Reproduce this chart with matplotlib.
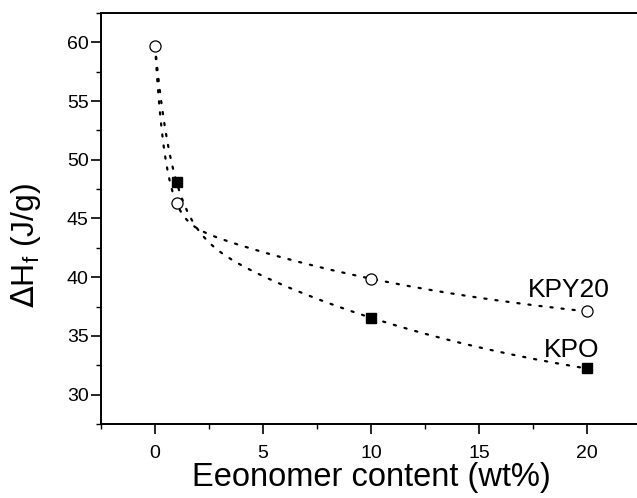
import numpy as np
import matplotlib
matplotlib.use("Agg")
import matplotlib.pyplot as plt
from matplotlib.ticker import MultipleLocator

plt.rcParams['font.family'] = ['Liberation Sans', 'DejaVu Sans']

# Heat of fusion vs. ionomer content
kpy20_x = [0, 1, 10, 20]
kpy20_y = [59.7, 46.3, 39.85, 37.1]
kpo_x = [0, 1, 10, 20]
kpo_y = [59.7, 48.1, 36.5, 32.25]

series_labels = ["KPY20", "KPO"]
x_ticks = [0, 5, 10, 15, 20]
y_ticks = [30, 35, 40, 45, 50, 55, 60]


def expdec2_fit(x, y, t1, t2, xs):
    """Least-squares y0 + A1*exp(-x/t1) + A2*exp(-x/t2) with fixed decay constants."""
    x = np.asarray(x, float)
    y = np.asarray(y, float)
    basis = lambda v: np.column_stack([np.ones_like(v), np.exp(-v / t1), np.exp(-v / t2)])
    coef, *_ = np.linalg.lstsq(basis(x), y, rcond=None)
    return basis(xs) @ coef


fig = plt.figure(figsize=(6.37, 4.98), dpi=100)
ax = fig.add_axes([0.1586, 0.1486, 0.848, 0.8254])

xs = np.linspace(0, 20, 400)
dot_style = dict(color="black", lw=1.6, linestyle=(0, (1, 4)), dash_capstyle="round")
ax.plot(xs, expdec2_fit(kpy20_x, kpy20_y, 0.47, 15.0, xs), **dot_style)
ax.plot(xs, expdec2_fit(kpo_x, kpo_y, 0.8, 15.0, xs), **dot_style)

ax.plot(kpo_x[1:], kpo_y[1:], linestyle="none", marker="s", ms=7.2,
        mfc="black", mec="black", zorder=3)
ax.plot(kpy20_x, kpy20_y, linestyle="none", marker="o", ms=8,
        mfc="white", mec="black", mew=0.9, zorder=4)

ax.text(17.27, 38.35, series_labels[0], fontsize=19, ha="left", va="baseline")
ax.text(18.0, 33.23, series_labels[1], fontsize=19, ha="left", va="baseline")

ax.set_xlim(-2.5, 22.5)
ax.set_ylim(27.5, 62.5)
ax.set_xticks(x_ticks)
ax.set_yticks(y_ticks)
ax.xaxis.set_minor_locator(MultipleLocator(2.5))
ax.yaxis.set_minor_locator(MultipleLocator(2.5))
ax.tick_params(which="major", direction="out", length=7, width=1.2, labelsize=14)
ax.tick_params(axis="y", which="major", pad=2)
ax.tick_params(axis="x", which="major", pad=8)
ax.tick_params(which="minor", direction="out", length=3.5, width=1.0)
for side in ["left", "bottom", "top", "right"]:
    ax.spines[side].set_linewidth(1.4)

ax.set_xlabel("Eeonomer content (wt%)", fontsize=23.5, labelpad=0)
ax.set_ylabel(r"$\Delta$H$_\mathregular{f}$ (J/g)", fontsize=23)
ax.yaxis.set_label_coords(-0.139, 0.435)
ax.yaxis.label.set_va("center")

fig.savefig("out.png", dpi=100)
